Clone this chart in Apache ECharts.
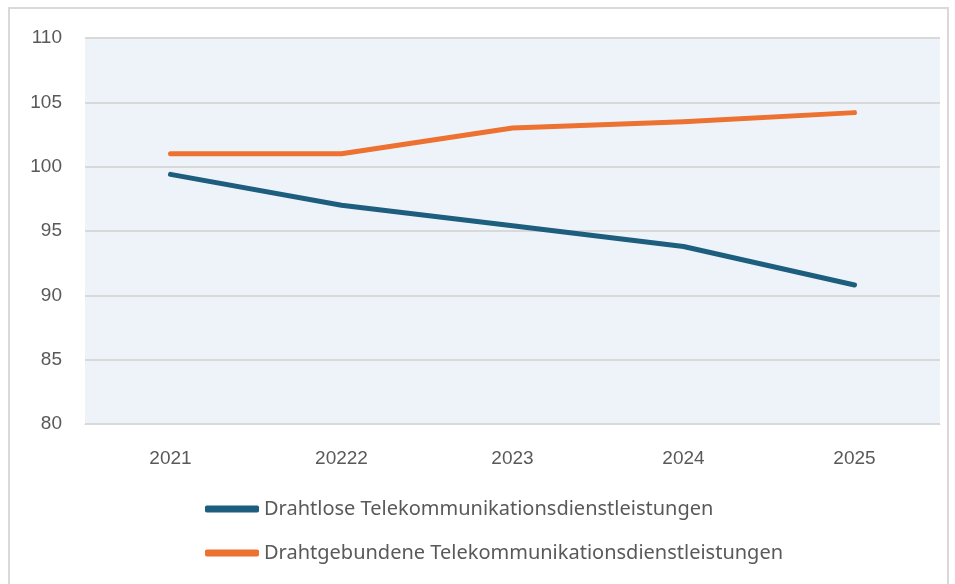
<!DOCTYPE html>
<html>
<head>
<meta charset="utf-8">
<script src="https://cdn.jsdelivr.net/npm/echarts@6/dist/echarts.min.js"></script>
<style>
  html, body { margin: 0; padding: 0; background: #fff; }
  #frame { position: absolute; left: 8px; top: 7px; width: 941px; height: 590px; border: 2px solid #d9d9d9; box-sizing: border-box; }
  #main { position: absolute; left: 0; top: 0; width: 955px; height: 584px; }
</style>
</head>
<body>
<div id="frame"></div>
<div id="main"></div>
<script>
var years = ['2021', '20222', '2023', '2024', '2025']
var wireless = [99.4, 97.0, 95.4, 93.8, 90.8]
var wired = [101.0, 101.0, 103.0, 103.5, 104.2]
var seriesNames = ['Drahtlose Telekommunikationsdienstleistungen', 'Drahtgebundene Telekommunikationsdienstleistungen']

var myChart = echarts.init(document.getElementById('main'))

var option = {
    animation: false,
    color: ['#1d5e7f', '#ed7131'],
    grid: {
        left: 85,
        right: 15,
        top: 38,
        bottom: 160,
        show: true,
        backgroundColor: '#eef3fa',
        borderWidth: 0
    },
    legend: {
        orient: 'vertical',
        left: 200,
        top: 494,
        itemGap: 24,
        itemWidth: 54,
        itemHeight: 7,
        icon: 'roundRect',
        textStyle: {
            fontFamily: 'Noto Sans',
            fontSize: 20,
            color: '#595959',
            padding: [0, 0, 0, 0]
        },
        data: seriesNames
    },
    xAxis: {
        type: 'category',
        data: years,
        boundaryGap: true,
        axisLine: { show: true, lineStyle: { color: '#d9d9d9', width: 1 } },
        axisTick: { show: false },
        axisLabel: {
            margin: 25,
            fontFamily: 'Liberation Sans',
            fontSize: 19,
            color: '#595959'
        }
    },
    yAxis: {
        type: 'value',
        min: 80,
        max: 110,
        interval: 5,
        axisLine: { show: false },
        axisTick: { show: false },
        splitLine: { lineStyle: { color: '#d9d9d9', width: 2 } },
        axisLabel: {
            margin: 23,
            fontFamily: 'Liberation Sans',
            fontSize: 19,
            color: '#595959'
        }
    },
    series: [
        {
            name: seriesNames[0],
            type: 'line',
            data: wireless,
            symbol: 'none',
            lineStyle: { width: 5, cap: 'round', join: 'round' }
        },
        {
            name: seriesNames[1],
            type: 'line',
            data: wired,
            symbol: 'none',
            lineStyle: { width: 5, cap: 'round', join: 'round' }
        }
    ]
};
myChart.setOption(option)
</script>
</body>
</html>
